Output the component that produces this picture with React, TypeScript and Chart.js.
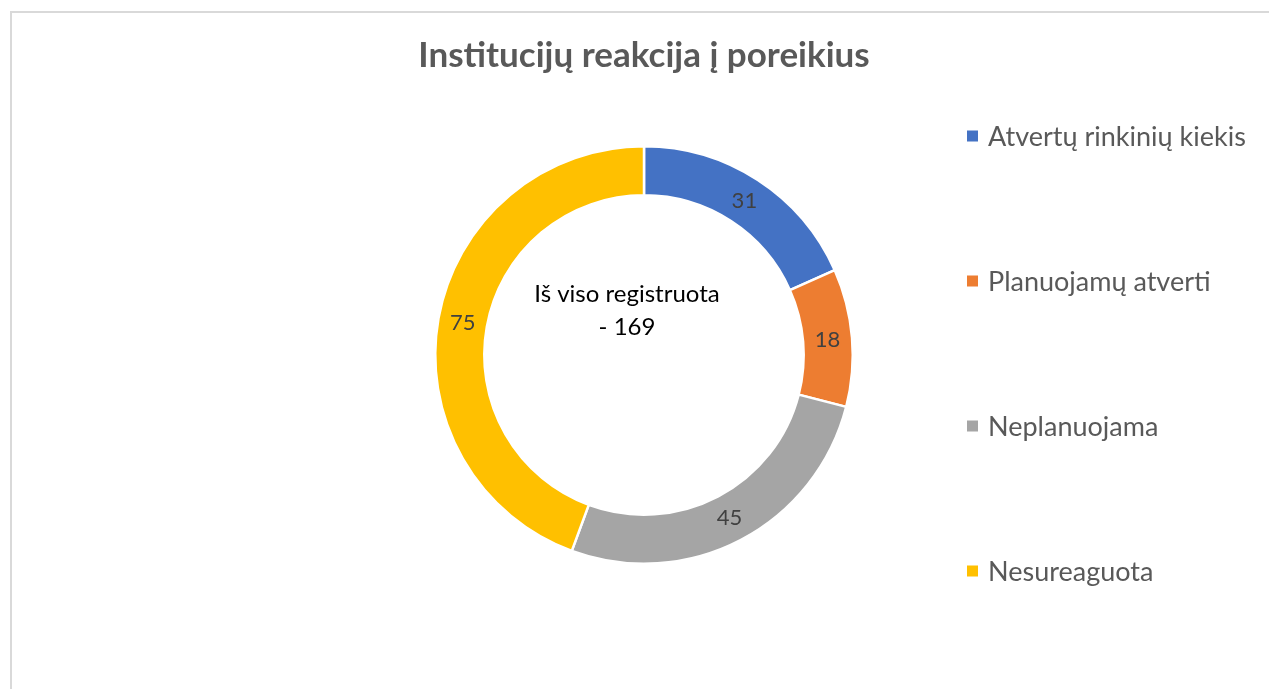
import React, { useEffect, useRef } from "react";
import { Chart, registerables } from "chart.js";

Chart.register(...registerables);

const chartTitle = "Institucijų reakcija į poreikius";
const categories = ["Atvertų rinkinių kiekis", "Planuojamų atverti", "Neplanuojama", "Nesureaguota"];
const values = [31, 18, 45, 75];
const colors = ["#4472C4", "#ED7D31", "#A5A5A5", "#FFC000"];
const centerLines = ["Iš viso registruota", "- 169"];

const FONT = "Lato, 'Open Sans', sans-serif";

const decorPlugin = {
  id: "decor",
  beforeDraw(chart: any) {
    const ctx = chart.ctx;
    ctx.save();
    ctx.fillStyle = "#ffffff";
    ctx.fillRect(0, 0, chart.width, chart.height);
    ctx.strokeStyle = "#d9d9d9";
    ctx.lineWidth = 2;
    ctx.strokeRect(11, 12, chart.width + 20, chart.height + 20);
    ctx.restore();
  },
  afterDraw(chart: any) {
    const ctx = chart.ctx;
    ctx.save();
    // title
    ctx.fillStyle = "#595959";
    ctx.font = `bold 35px ${FONT}`;
    ctx.textAlign = "center";
    ctx.textBaseline = "middle";
    ctx.fillText(chartTitle, 644, 56);

    // data labels
    const meta = chart.getDatasetMeta(0);
    ctx.font = `22px ${FONT}`;
    ctx.fillStyle = "#404040";
    meta.data.forEach((arc: any, i: number) => {
      const p = arc.tooltipPosition();
      ctx.fillText(String(chart.data.datasets[0].data[i]), p.x, p.y);
    });

    // center text
    const cx = (chart.chartArea.left + chart.chartArea.right) / 2;
    const cy = (chart.chartArea.top + chart.chartArea.bottom) / 2;
    ctx.fillStyle = "#000000";
    ctx.font = `24px ${FONT}`;
    ctx.fillText(centerLines[0], cx - 17, cy - 61);
    ctx.fillText(centerLines[1], cx - 17, cy - 28);

    // legend
    ctx.textAlign = "left";
    ctx.font = `27px ${FONT}`;
    const labels = chart.data.labels as string[];
    labels.forEach((lab: string, i: number) => {
      const y = 136 + i * 145;
      ctx.fillStyle = colors[i];
      ctx.fillRect(967, y - 5.5, 11, 11);
      ctx.fillStyle = "#595959";
      ctx.fillText(lab, 988, y + 1);
    });
    ctx.restore();
  },
};

export default function App() {
  const ref = useRef<HTMLCanvasElement | null>(null);
  useEffect(() => {
    if (!ref.current) return;
    const chart = new Chart(ref.current, {
      type: "doughnut",
      data: {
        labels: categories,
        datasets: [
          {
            data: values,
            backgroundColor: colors,
            borderColor: "#ffffff",
            borderWidth: 2.5,
            hoverOffset: 0,
          },
        ],
      },
      options: {
        responsive: false,
        animation: false,
        cutout: "76.5%",
        layout: { padding: { left: 434, right: 415, top: 145, bottom: 124 } },
        plugins: {
          legend: { display: false },
          title: { display: false },
          tooltip: { enabled: false },
        },
      },
      plugins: [decorPlugin],
    });
    return () => chart.destroy();
  }, []);
  return (
    <div style={{ position: "absolute", left: 0, top: 0, width: 1269, height: 689 }}>
      <canvas ref={ref} width={1269} height={689} style={{ display: "block" }} />
    </div>
  );
}
